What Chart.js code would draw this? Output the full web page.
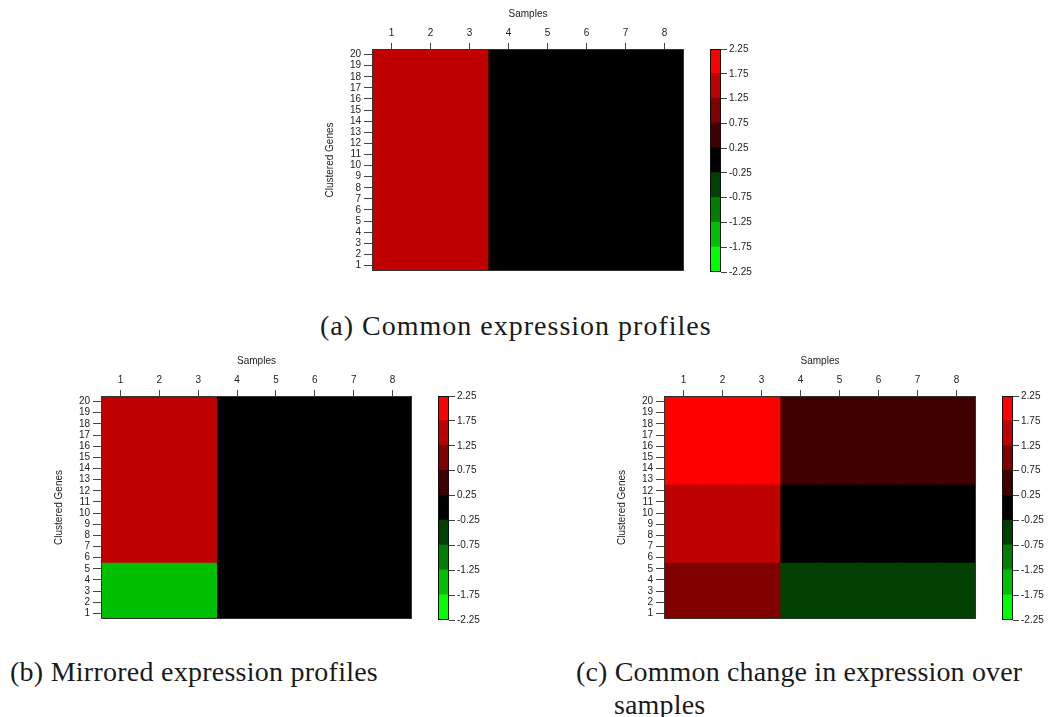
<!DOCTYPE html>
<html>
<head>
<meta charset="utf-8">
<script src="https://cdn.jsdelivr.net/npm/chart.js@4/dist/chart.umd.min.js"></script>
<style>
  body { margin: 0; background: #fff; width: 1050px; height: 717px; position: relative; overflow: hidden; }
  canvas { position: absolute; }
  .cap { position: absolute; font-family: "Liberation Serif", "Times New Roman", serif; font-size: 28px; letter-spacing: 0.5px; color: #1a1a1a; white-space: nowrap; line-height: 33px; }
</style>
</head>
<body>
<canvas id="heatA" width="370" height="280" style="left:320px;top:0px"></canvas>
<canvas id="barA" width="56" height="280" style="left:705px;top:0px"></canvas>
<canvas id="heatB" width="369" height="281" style="left:49px;top:347px"></canvas>
<canvas id="barB" width="56" height="281" style="left:433px;top:347px"></canvas>
<canvas id="heatC" width="370" height="281" style="left:612px;top:347px"></canvas>
<canvas id="barC" width="56" height="281" style="left:997px;top:347px"></canvas>

<div class="cap" style="left:320px;top:309px;letter-spacing:1px">(a) Common expression profiles</div>
<div class="cap" style="left:10px;top:655px;letter-spacing:0.25px">(b) Mirrored expression profiles</div>
<div class="cap" style="left:576px;top:655px;letter-spacing:0.15px">(c) Common change in expression over<br><span style="padding-left:38px">samples</span></div>

<script>
// samples (columns) and clustered genes (rows)
const samples = ['1', '2', '3', '4', '5', '6', '7', '8'];
const genes = [1, 2, 3, 4, 5, 6, 7, 8, 9, 10, 11, 12, 13, 14, 15, 16, 17, 18, 19, 20];

// colour key
const colorBreaks = [-2.25, -1.75, -1.25, -0.75, -0.25, 0.25, 0.75, 1.25, 1.75, 2.25];
const colorBins = ['#00FF00', '#00BF00', '#008000', '#004000', '#000000', '#400000', '#800000', '#BF0000', '#FF0000'];

// expression values, one row per gene (gene 1 first)
const profileA = [
  [1.5, 1.5, 1.5, 0, 0, 0, 0, 0],
  [1.5, 1.5, 1.5, 0, 0, 0, 0, 0],
  [1.5, 1.5, 1.5, 0, 0, 0, 0, 0],
  [1.5, 1.5, 1.5, 0, 0, 0, 0, 0],
  [1.5, 1.5, 1.5, 0, 0, 0, 0, 0],
  [1.5, 1.5, 1.5, 0, 0, 0, 0, 0],
  [1.5, 1.5, 1.5, 0, 0, 0, 0, 0],
  [1.5, 1.5, 1.5, 0, 0, 0, 0, 0],
  [1.5, 1.5, 1.5, 0, 0, 0, 0, 0],
  [1.5, 1.5, 1.5, 0, 0, 0, 0, 0],
  [1.5, 1.5, 1.5, 0, 0, 0, 0, 0],
  [1.5, 1.5, 1.5, 0, 0, 0, 0, 0],
  [1.5, 1.5, 1.5, 0, 0, 0, 0, 0],
  [1.5, 1.5, 1.5, 0, 0, 0, 0, 0],
  [1.5, 1.5, 1.5, 0, 0, 0, 0, 0],
  [1.5, 1.5, 1.5, 0, 0, 0, 0, 0],
  [1.5, 1.5, 1.5, 0, 0, 0, 0, 0],
  [1.5, 1.5, 1.5, 0, 0, 0, 0, 0],
  [1.5, 1.5, 1.5, 0, 0, 0, 0, 0],
  [1.5, 1.5, 1.5, 0, 0, 0, 0, 0]
];
const profileB = [
  [-1.5, -1.5, -1.5, 0, 0, 0, 0, 0],
  [-1.5, -1.5, -1.5, 0, 0, 0, 0, 0],
  [-1.5, -1.5, -1.5, 0, 0, 0, 0, 0],
  [-1.5, -1.5, -1.5, 0, 0, 0, 0, 0],
  [-1.5, -1.5, -1.5, 0, 0, 0, 0, 0],
  [1.5, 1.5, 1.5, 0, 0, 0, 0, 0],
  [1.5, 1.5, 1.5, 0, 0, 0, 0, 0],
  [1.5, 1.5, 1.5, 0, 0, 0, 0, 0],
  [1.5, 1.5, 1.5, 0, 0, 0, 0, 0],
  [1.5, 1.5, 1.5, 0, 0, 0, 0, 0],
  [1.5, 1.5, 1.5, 0, 0, 0, 0, 0],
  [1.5, 1.5, 1.5, 0, 0, 0, 0, 0],
  [1.5, 1.5, 1.5, 0, 0, 0, 0, 0],
  [1.5, 1.5, 1.5, 0, 0, 0, 0, 0],
  [1.5, 1.5, 1.5, 0, 0, 0, 0, 0],
  [1.5, 1.5, 1.5, 0, 0, 0, 0, 0],
  [1.5, 1.5, 1.5, 0, 0, 0, 0, 0],
  [1.5, 1.5, 1.5, 0, 0, 0, 0, 0],
  [1.5, 1.5, 1.5, 0, 0, 0, 0, 0],
  [1.5, 1.5, 1.5, 0, 0, 0, 0, 0]
];
const profileC = [
  [1, 1, 1, -0.5, -0.5, -0.5, -0.5, -0.5],
  [1, 1, 1, -0.5, -0.5, -0.5, -0.5, -0.5],
  [1, 1, 1, -0.5, -0.5, -0.5, -0.5, -0.5],
  [1, 1, 1, -0.5, -0.5, -0.5, -0.5, -0.5],
  [1, 1, 1, -0.5, -0.5, -0.5, -0.5, -0.5],
  [1.5, 1.5, 1.5, 0, 0, 0, 0, 0],
  [1.5, 1.5, 1.5, 0, 0, 0, 0, 0],
  [1.5, 1.5, 1.5, 0, 0, 0, 0, 0],
  [1.5, 1.5, 1.5, 0, 0, 0, 0, 0],
  [1.5, 1.5, 1.5, 0, 0, 0, 0, 0],
  [1.5, 1.5, 1.5, 0, 0, 0, 0, 0],
  [1.5, 1.5, 1.5, 0, 0, 0, 0, 0],
  [2, 2, 2, 0.5, 0.5, 0.5, 0.5, 0.5],
  [2, 2, 2, 0.5, 0.5, 0.5, 0.5, 0.5],
  [2, 2, 2, 0.5, 0.5, 0.5, 0.5, 0.5],
  [2, 2, 2, 0.5, 0.5, 0.5, 0.5, 0.5],
  [2, 2, 2, 0.5, 0.5, 0.5, 0.5, 0.5],
  [2, 2, 2, 0.5, 0.5, 0.5, 0.5, 0.5],
  [2, 2, 2, 0.5, 0.5, 0.5, 0.5, 0.5],
  [2, 2, 2, 0.5, 0.5, 0.5, 0.5, 0.5]
];

const axisFont = { family: '"Liberation Sans", Arial, sans-serif', size: 10 };
const textColor = '#222';

function colorFor(v) {
  for (let i = 0; i < colorBins.length; i++) {
    if (v >= colorBreaks[i] && v < colorBreaks[i + 1]) return colorBins[i];
  }
  return v < colorBreaks[0] ? colorBins[0] : colorBins[colorBins.length - 1];
}

// box round the plot area, like R's image()
const framePlugin = {
  id: 'frame',
  afterDatasetsDraw(chart, args, opts) {
    const a = chart.chartArea, ctx = chart.ctx;
    ctx.save();
    ctx.strokeStyle = opts.color || '#333';
    ctx.lineWidth = 1;
    ctx.strokeRect(Math.round(a.left) + 0.5, Math.round(a.top) + 0.5,
      Math.round(a.right - a.left) - 1, Math.round(a.bottom - a.top) - 1);
    ctx.restore();
  }
};

function heatmap(id, matrix) {
  const datasets = genes.map((g, r) => ({
    label: 'gene ' + g,
    data: samples.map(() => [g - 0.5, g + 0.5]),
    backgroundColor: samples.map((s, c) => colorFor(matrix[r][c])),
    borderWidth: 0,
    inflateAmount: 0.6,
    grouped: false,
    barPercentage: 1,
    categoryPercentage: 1
  }));
  new Chart(document.getElementById(id), {
    type: 'bar',
    data: { labels: samples, datasets: datasets },
    plugins: [framePlugin],
    options: {
      responsive: false,
      animation: false,
      layout: { padding: { left: 0, top: 0, right: 6, bottom: 7 } },
      plugins: { legend: { display: false }, tooltip: { enabled: false }, frame: { color: '#333' } },
      scales: {
        x: {
          type: 'category',
          position: 'top',
          offset: true,
          grid: { offset: false, drawOnChartArea: false, tickLength: 6, color: '#444' },
          border: { display: false },
          ticks: { font: axisFont, color: textColor, padding: 4, maxRotation: 0 },
          title: { display: true, text: 'Samples', font: axisFont, color: textColor, padding: { top: 8, bottom: 0 } },
          afterFit(s) { s.height = 49; }
        },
        y: {
          type: 'linear',
          min: 0.5,
          max: 20.5,
          grid: { drawOnChartArea: false, tickLength: 8, color: '#444' },
          border: { display: false },
          ticks: { font: axisFont, color: textColor, padding: 3, autoSkip: false },
          afterBuildTicks(s) { s.ticks = genes.map(g => ({ value: g })); },
          title: { display: true, text: 'Clustered Genes', font: axisFont, color: textColor, padding: { top: 4, bottom: 0 } },
          afterFit(s) { s.width = 52; }
        }
      }
    }
  });
}

function colorKey(id) {
  const datasets = colorBins.map((col, i) => ({
    data: [[colorBreaks[i], colorBreaks[i + 1]]],
    backgroundColor: col,
    borderWidth: 0,
    inflateAmount: 0.6,
    grouped: false,
    barPercentage: 1,
    categoryPercentage: 1
  }));
  new Chart(document.getElementById(id), {
    type: 'bar',
    data: { labels: ['key'], datasets: datasets },
    plugins: [framePlugin],
    options: {
      responsive: false,
      animation: false,
      layout: { padding: { left: 5, top: 49, right: 0, bottom: 7 } },
      plugins: { legend: { display: false }, tooltip: { enabled: false }, frame: { color: '#111' } },
      scales: {
        x: { display: false, offset: true },
        y: {
          type: 'linear',
          position: 'right',
          min: colorBreaks[0],
          max: colorBreaks[colorBreaks.length - 1],
          grid: { drawOnChartArea: false, tickLength: 6, color: '#444' },
          border: { display: false },
          ticks: { font: axisFont, color: textColor, padding: 2, autoSkip: false, callback: v => v.toFixed(2) },
          afterBuildTicks(s) { s.ticks = colorBreaks.map(v => ({ value: v })); },
          afterFit(s) { s.width = 40; }
        }
      }
    }
  });
}

heatmap('heatA', profileA);
colorKey('barA');
heatmap('heatB', profileB);
colorKey('barB');
heatmap('heatC', profileC);
colorKey('barC');
</script>
</body>
</html>
